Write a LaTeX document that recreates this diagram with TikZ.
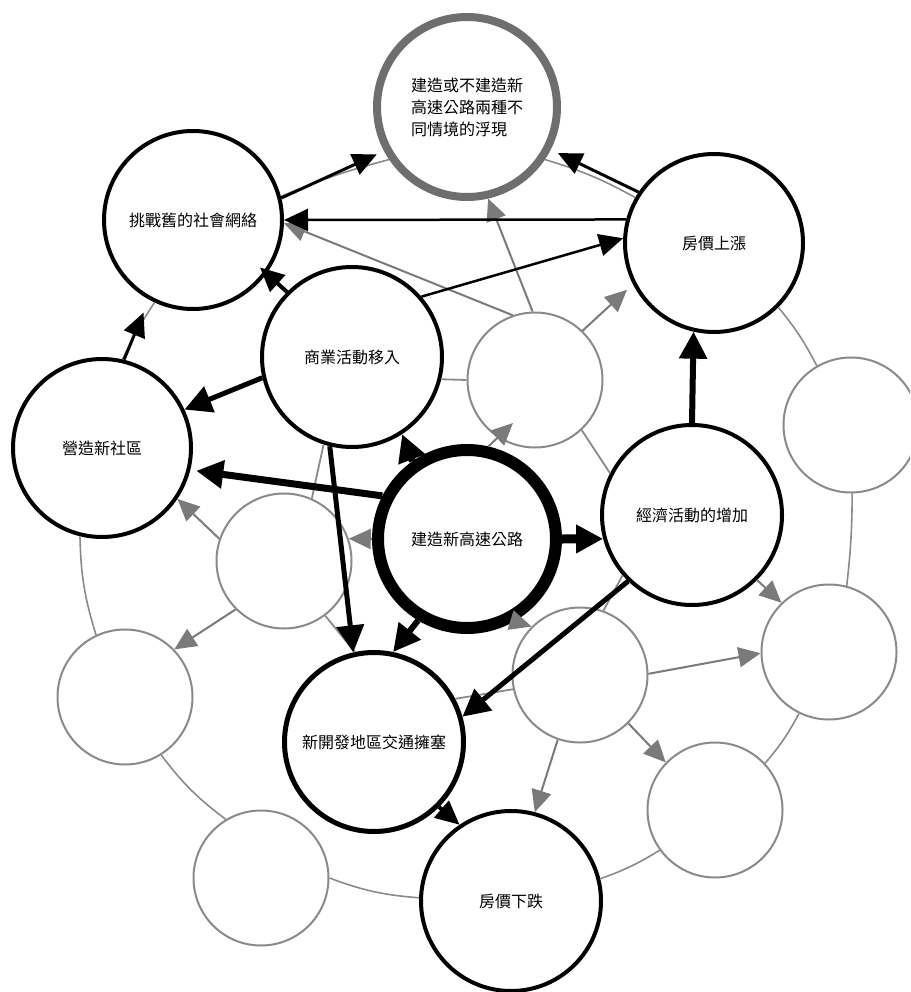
\documentclass[tikz,border=0pt]{standalone}
\usepackage{fontspec}
\newfontfamily\cjk{Noto Sans CJK TC}
\usetikzlibrary{arrows.meta}
\definecolor{ringgray}{HTML}{8A8A8A}
\definecolor{topgray}{HTML}{6E6E6E}
\definecolor{arrgray}{HTML}{7A7A7A}
\begin{document}
\begin{tikzpicture}[x=1pt,y=-1pt,
  bignode/.style={circle, draw=black, line width=4pt, fill=white, minimum size=178pt, inner sep=0pt, font=\cjk\fontsize{16}{22}\selectfont},
  graynode/.style={circle, draw=ringgray, line width=2pt, fill=white, minimum size=135pt, inner sep=0pt},
  ring/.style={draw=ringgray, line width=1.6pt},
  gline/.style={draw=ringgray, line width=1.8pt},
  garrow/.style={draw=arrgray, line width=2pt, -{Triangle[length=22pt,width=20pt]}},
  barrow/.style={draw=black, -{Triangle[length=24pt,width=22pt]}},
  bthick/.style={draw=black, -{Triangle[length=27pt,width=27pt]}}
]
\useasboundingbox (0,0) rectangle (910,992);
\clip (0,0) rectangle (910,992);
% nodes
\node[bignode, draw=topgray, line width=8pt, minimum size=180pt, align=left] (T) at (467,107) {建造或不建造新\\高速公路兩種不\\同情境的浮現};
\node[bignode] (S) at (193,220) {挑戰舊的社會網絡};
\node[bignode] (R) at (714,243) {房價上漲};
\node[bignode, minimum size=180pt] (C) at (352,357) {商業活動移入};
\node[bignode] (N) at (102,448) {營造新社區};
\node[graynode] (G6) at (535,380) {};
\node[graynode] (G7) at (851,425) {};
\node[bignode, line width=12pt] (H) at (467,539) {建造新高速公路};
\node[bignode, minimum size=180pt] (E) at (692,515) {經濟活動的增加};
\node[graynode] (G10) at (284,561) {};
\node[graynode] (G11) at (125,697) {};
\node[graynode] (G12) at (580,675) {};
\node[graynode] (G13) at (829,652) {};
\node[bignode, line width=5pt, minimum size=179pt] (J) at (374,742) {新開發地區交通擁塞};
\node[graynode] (G15) at (715,810) {};
\node[graynode] (G16) at (261,878) {};
\node[bignode, minimum size=180pt] (D) at (511,901) {房價下跌};
% ring
\draw[ring] (T.326) to[bend left=6] (R.150);
\draw[ring] (R.315) to[bend left=6] (G7.120);
\draw[ring] (G7.271) to[bend left=3] (G13.75);
\draw[ring] (G13.244) to[bend left=6] (G15.43);
\draw[ring] (G15.216) to[bend left=6] (D.14);
\draw[ring] (D.178) to[bend left=8] (G16.0);
\draw[ring] (G16.121) to[bend left=8] (G11.302);
\draw[ring] (G11.115) to[bend left=8] (N.256);
\draw[ring] (N.77) to[bend left=4] (S.245);
\draw[ring] (S.15) to[bend left=4] (T.214);
% gray inner connectors
\draw[gline] (C.346) -- (G6.180);
\draw[gline] (G6.313) -- (E.153);
\draw[gline] (C.252) -- (G10.66);
\draw[gline] (G10.307) -- (J.102);
\draw[gline] (E.221) -- (G12.70);
\draw[gline] (J.28) -- (G12.192);
\draw[garrow] (G6.92) -- (T.283);
\draw[garrow] (G6.109) -- (S.358);
\draw[garrow, shorten >=8pt] (G6.46) -- (R.207);
\draw[garrow] (H.77) -- ([shift={(-22,43)}]G6.center);
\draw[garrow] (H.180) -- (G10.19);
\draw[garrow] (G10.161) -- (N.326);
\draw[garrow] (G10.225) -- (G11.44);
\draw[garrow] (H.300) -- (G12.135);
\draw[garrow] (E.315) -- (G13.134);
\draw[garrow] (G12.1) -- (G13.181);
\draw[garrow] (G12.315) -- (G15.136);
\draw[garrow] (G12.251) -- (D.75);
% black connectors
\draw[barrow, line width=3pt, shorten >=8pt] (S.14) -- (T.208);
\draw[barrow, line width=3pt, shorten >=8pt] (R.146) -- (T.333);
\draw[barrow, line width=2.5pt] (R.165) -- (S.0);
\draw[barrow, line width=2.5pt] (C.41) -- (R.177);
\draw[barrow, line width=4pt, shorten >=-9pt] (C.135) -- (S.324);
\draw[barrow, line width=3pt, shorten >=14pt] (N.76) -- (S.241);
\draw[bthick, line width=5pt] (C.193) -- (N.25);
\draw[bthick, line width=7pt, shorten >=6pt] (H.153) -- (N.346);
\draw[bthick, line width=7pt] (H.125) -- (C.303);
\draw[bthick, line width=5pt] (C.256) -- (J.103);
\draw[bthick, line width=6pt] (H.239) -- (J.78);
\draw[bthick, line width=9pt] (H.0) -- (E.195);
\draw[bthick, line width=6pt] (E.90) -- (R.257);
\draw[bthick, line width=5pt] (E.226) -- (J.16);
\draw[barrow, line width=4pt] (J.315) -- (D.124);
\end{tikzpicture}
\end{document}
